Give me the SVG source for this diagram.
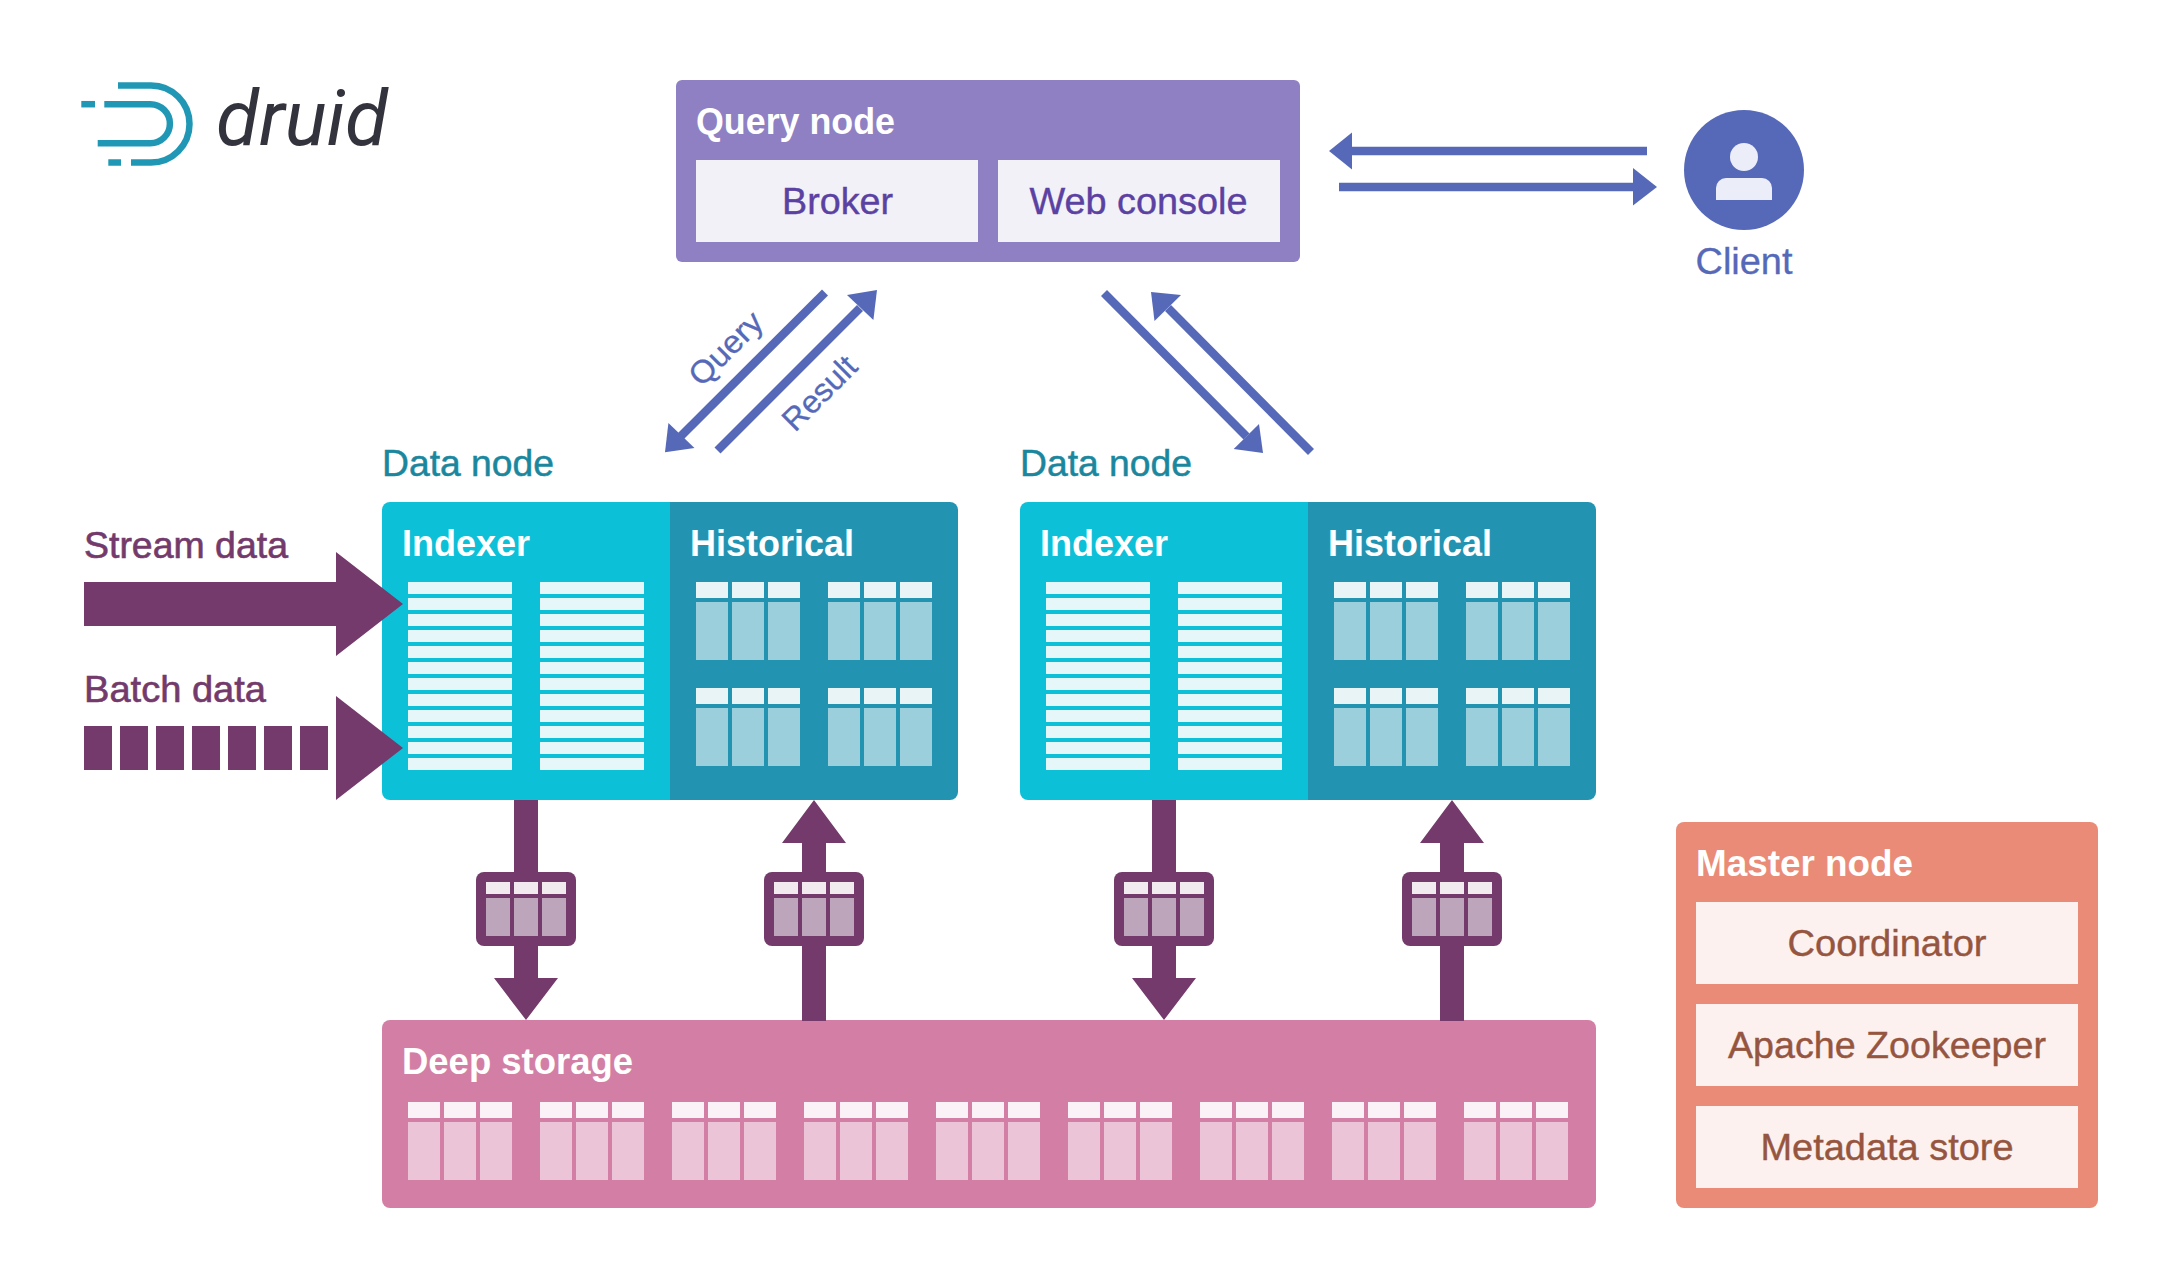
<svg xmlns="http://www.w3.org/2000/svg" xmlns:xlink="http://www.w3.org/1999/xlink" width="2178" height="1288" viewBox="0 0 2178 1288">
<style>
text{font-family:"Liberation Sans",Arial,sans-serif;font-size:36px}
.b{font-weight:700;fill:#fff;font-size:36px}
.m{text-anchor:middle}
.q{fill:#5a41a2;stroke:#5a41a2;stroke-width:.4}
.p{fill:#733a6b;stroke:#733a6b;stroke-width:.6}
.t{fill:#1b879e;stroke:#1b879e;stroke-width:.5}
.c{fill:#5669b8;stroke:#5669b8;stroke-width:.3}
.r{fill:#96553f;stroke:#96553f;stroke-width:.4}
.pu{fill:#733a6b}
.bl{fill:#5669b8}
.ln{stroke:#5669b8;stroke-width:8.5;fill:none}
.lg{stroke:#2098b5;stroke-width:6.5;fill:none}
.hh{fill:#e9f4f6}.hb{fill:#9bcfdb}
.dh{fill:#fbf2f7}.db{fill:#ebc5d7}
.sh{fill:#f1ebf0}.sb{fill:#bda5bb}
.row{fill:#e6f7fa}
</style>
<defs>
<g id="seg-h"><rect x="0" y="0" width="32" height="16" class="hh"/><rect x="36" y="0" width="32" height="16" class="hh"/><rect x="72" y="0" width="32" height="16" class="hh"/><rect x="0" y="20" width="32" height="58" class="hb"/><rect x="36" y="20" width="32" height="58" class="hb"/><rect x="72" y="20" width="32" height="58" class="hb"/></g>
<g id="seg-d"><rect x="0" y="0" width="32" height="16" class="dh"/><rect x="36" y="0" width="32" height="16" class="dh"/><rect x="72" y="0" width="32" height="16" class="dh"/><rect x="0" y="20" width="32" height="58" class="db"/><rect x="36" y="20" width="32" height="58" class="db"/><rect x="72" y="20" width="32" height="58" class="db"/></g>
<g id="rows"><rect y="0" width="104" height="12" class="row"/><rect y="16" width="104" height="12" class="row"/><rect y="32" width="104" height="12" class="row"/><rect y="48" width="104" height="12" class="row"/><rect y="64" width="104" height="12" class="row"/><rect y="80" width="104" height="12" class="row"/><rect y="96" width="104" height="12" class="row"/><rect y="112" width="104" height="12" class="row"/><rect y="128" width="104" height="12" class="row"/><rect y="144" width="104" height="12" class="row"/><rect y="160" width="104" height="12" class="row"/><rect y="176" width="104" height="12" class="row"/></g>
<g id="seg-s"><rect x="-50" y="-37" width="100" height="74" rx="8" class="pu"/><rect x="-40" y="-27" width="24" height="12" class="sh"/><rect x="-12" y="-27" width="24" height="12" class="sh"/><rect x="16" y="-27" width="24" height="12" class="sh"/><rect x="-40" y="-11" width="24" height="38" class="sb"/><rect x="-12" y="-11" width="24" height="38" class="sb"/><rect x="16" y="-11" width="24" height="38" class="sb"/></g>
</defs>

<g id="logo">
<path class="lg" d="M118,85.5H151A38.5,38.5 0 0 1 151,162.5H131"/>
<path class="lg" d="M104.3,104.2H150.4A19.5,19.5 0 0 1 150.4,143.2H97.7"/>
<path class="lg" d="M81.3,104.2H95"/>
<path class="lg" d="M108.3,162.5H121"/>
<text x="216" y="144.5" textLength="172" lengthAdjust="spacingAndGlyphs" style="font-family:Roboto,'Liberation Sans',sans-serif;font-style:italic;font-size:77px;fill:#33333d">druid</text>
</g>

<g id="query-node">
<rect x="676" y="80" width="624" height="182" rx="6" fill="#8f80c4"/>
<text x="696" y="134" class="b" textLength="199" lengthAdjust="spacingAndGlyphs">Query node</text>
<rect x="696" y="160" width="282" height="82" fill="#f2f1f8"/>
<text x="837.5" y="214" class="q m" textLength="111" lengthAdjust="spacingAndGlyphs">Broker</text>
<rect x="998" y="160" width="282" height="82" fill="#f2f1f8"/>
<text x="1138.5" y="214" class="q m" textLength="218" lengthAdjust="spacingAndGlyphs">Web console</text>
</g>

<g id="client">
<circle cx="1744" cy="170" r="60" fill="#5669b8"/>
<circle cx="1744" cy="157" r="14" fill="#ebeef8"/>
<path d="M1716,200V188A10,10 0 0 1 1726,178H1762A10,10 0 0 1 1772,188V200Z" fill="#ebeef8"/>
<text x="1744" y="274" class="c m" textLength="97" lengthAdjust="spacingAndGlyphs">Client</text>
</g>

<g id="data-node-1">
<text x="382" y="476" class="t" textLength="172" lengthAdjust="spacingAndGlyphs">Data node</text>
<path d="M390,502H670V800H390A8,8 0 0 1 382,792V510A8,8 0 0 1 390,502Z" fill="#0cc0d8"/>
<path d="M670,502H950A8,8 0 0 1 958,510V792A8,8 0 0 1 950,800H670Z" fill="#2294b2"/>
<text x="402" y="555.5" class="b">Indexer</text>
<text x="690" y="555.5" class="b">Historical</text>
<use xlink:href="#rows" href="#rows" x="408" y="582"/>
<use xlink:href="#rows" href="#rows" x="540" y="582"/>
<use xlink:href="#seg-h" href="#seg-h" x="696" y="582"/>
<use xlink:href="#seg-h" href="#seg-h" x="828" y="582"/>
<use xlink:href="#seg-h" href="#seg-h" x="696" y="688"/>
<use xlink:href="#seg-h" href="#seg-h" x="828" y="688"/>
</g>

<g id="data-node-2">
<text x="1020" y="476" class="t" textLength="172" lengthAdjust="spacingAndGlyphs">Data node</text>
<path d="M1028,502H1308V800H1028A8,8 0 0 1 1020,792V510A8,8 0 0 1 1028,502Z" fill="#0cc0d8"/>
<path d="M1308,502H1588A8,8 0 0 1 1596,510V792A8,8 0 0 1 1588,800H1308Z" fill="#2294b2"/>
<text x="1040" y="555.5" class="b">Indexer</text>
<text x="1328" y="555.5" class="b">Historical</text>
<use xlink:href="#rows" href="#rows" x="1046" y="582"/>
<use xlink:href="#rows" href="#rows" x="1178" y="582"/>
<use xlink:href="#seg-h" href="#seg-h" x="1334" y="582"/>
<use xlink:href="#seg-h" href="#seg-h" x="1466" y="582"/>
<use xlink:href="#seg-h" href="#seg-h" x="1334" y="688"/>
<use xlink:href="#seg-h" href="#seg-h" x="1466" y="688"/>
</g>

<g id="deep-storage">
<rect x="382" y="1020" width="1214" height="188" rx="8" fill="#d37fa5"/>
<text x="402" y="1074" class="b" textLength="231" lengthAdjust="spacingAndGlyphs">Deep storage</text>
<use xlink:href="#seg-d" href="#seg-d" x="408" y="1102"/>
<use xlink:href="#seg-d" href="#seg-d" x="540" y="1102"/>
<use xlink:href="#seg-d" href="#seg-d" x="672" y="1102"/>
<use xlink:href="#seg-d" href="#seg-d" x="804" y="1102"/>
<use xlink:href="#seg-d" href="#seg-d" x="936" y="1102"/>
<use xlink:href="#seg-d" href="#seg-d" x="1068" y="1102"/>
<use xlink:href="#seg-d" href="#seg-d" x="1200" y="1102"/>
<use xlink:href="#seg-d" href="#seg-d" x="1332" y="1102"/>
<use xlink:href="#seg-d" href="#seg-d" x="1464" y="1102"/>
</g>

<g id="master-node">
<rect x="1676" y="822" width="422" height="386" rx="8" fill="#ea8b77"/>
<text x="1696" y="875.5" class="b" textLength="217" lengthAdjust="spacingAndGlyphs">Master node</text>
<rect x="1696" y="902" width="382" height="82" fill="#fcf1ef"/>
<text x="1887" y="955.5" class="r m" textLength="199" lengthAdjust="spacingAndGlyphs">Coordinator</text>
<rect x="1696" y="1004" width="382" height="82" fill="#fcf1ef"/>
<text x="1887" y="1057.5" class="r m" textLength="318" lengthAdjust="spacingAndGlyphs">Apache Zookeeper</text>
<rect x="1696" y="1106" width="382" height="82" fill="#fcf1ef"/>
<text x="1887" y="1159.5" class="r m" textLength="253" lengthAdjust="spacingAndGlyphs">Metadata store</text>
</g>

<g id="connectors">
<path class="ln" d="M1647,151H1351"/><path class="bl" d="M1329,151L1352,132.5V169.5Z"/>
<path class="ln" d="M1339,187H1634"/><path class="bl" d="M1657,187L1633,168V205.5Z"/>
<path class="ln" d="M825,292.5L681,436"/><path class="bl" d="M665,452.3L668.4,423L694.5,448Z"/>
<path class="ln" d="M717.5,450.5L860,308"/><path class="bl" d="M877,290L847,295L873.4,320Z"/>
<path class="ln" d="M1104,293L1246.5,436.5"/><path class="bl" d="M1263,453L1259,424L1233.7,449Z"/>
<path class="ln" d="M1311,452L1168,308"/><path class="bl" d="M1151,292L1181,295L1154.5,321Z"/>
<text transform="translate(701.5,388) rotate(-45)" class="c" style="font-size:32px" textLength="90" lengthAdjust="spacingAndGlyphs">Query</text>
<text transform="translate(795,433) rotate(-45)" class="c" style="font-size:32px" textLength="91" lengthAdjust="spacingAndGlyphs">Result</text>

<g id="stream-data">
<text x="84" y="557.5" class="p" textLength="204" lengthAdjust="spacingAndGlyphs">Stream data</text>
<path class="pu" d="M84,582H336V552L403,604L336,656V626H84Z"/>
</g>
<g id="batch-data">
<text x="84" y="701.5" class="p" textLength="182" lengthAdjust="spacingAndGlyphs">Batch data</text>
<rect class="pu" x="84" y="726" width="28" height="44"/><rect class="pu" x="120" y="726" width="28" height="44"/><rect class="pu" x="156" y="726" width="28" height="44"/><rect class="pu" x="192" y="726" width="28" height="44"/><rect class="pu" x="228" y="726" width="28" height="44"/><rect class="pu" x="264" y="726" width="28" height="44"/><rect class="pu" x="300" y="726" width="28" height="44"/>
<path class="pu" d="M336,696L403,748L336,800Z"/>
</g>

<g id="seg-arrows">
<path class="pu" d="M514,800H538V978H558L526,1020L494,978H514Z"/><use xlink:href="#seg-s" href="#seg-s" x="526" y="909"/>
<path class="pu" d="M802,1021H826V843H846L814,800L782,843H802Z"/><use xlink:href="#seg-s" href="#seg-s" x="814" y="909"/>
<path class="pu" d="M1152,800H1176V978H1196L1164,1020L1132,978H1152Z"/><use xlink:href="#seg-s" href="#seg-s" x="1164" y="909"/>
<path class="pu" d="M1440,1021H1464V843H1484L1452,800L1420,843H1440Z"/><use xlink:href="#seg-s" href="#seg-s" x="1452" y="909"/>
</g>
</g>
</svg>
